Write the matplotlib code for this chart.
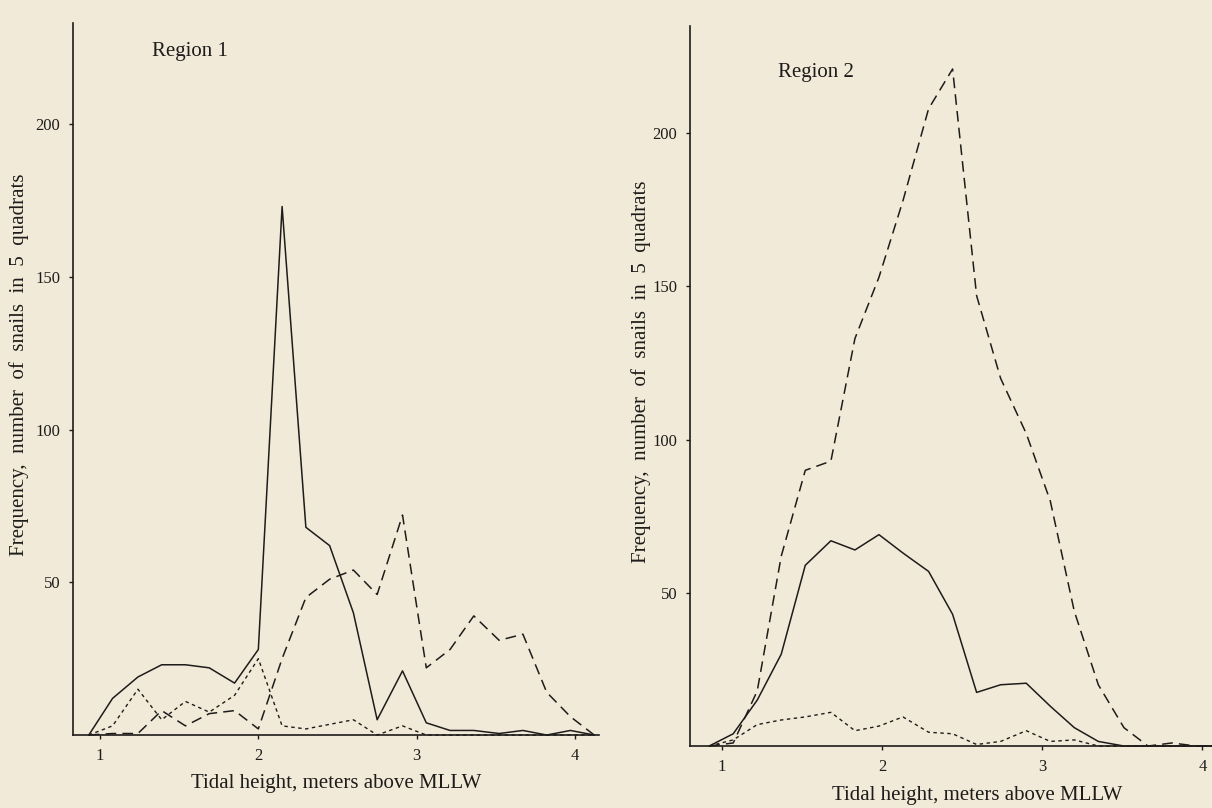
import matplotlib.pyplot as plt

# Region 1 - tidal height (m above MLLW) and counts per species
x1 = [0.93, 1.08, 1.24, 1.39, 1.54, 1.69, 1.85, 2.00, 2.15, 2.30, 2.45,
      2.60, 2.75, 2.91, 3.06, 3.21, 3.36, 3.52, 3.67, 3.82, 3.97, 4.12]
solid1 = [0, 12, 19, 23, 23, 22, 17, 28, 173, 68, 62,
          40, 5, 21, 4, 1.5, 1.5, 0.5, 1.5, 0, 1.5, 0]
dashed1 = [0, 0.5, 0.5, 8, 3, 7, 8, 2, 25, 45, 51,
           54, 46, 72, 22, 28, 39, 31, 33, 14, 6, 0]
dotted1 = [0, 3, 15, 5, 11, 7.5, 13, 25, 3, 2, 3.5,
           5, 0, 3, 0, 0, 0, 0, 0, 0, 0, 0]

# Region 2
x2 = [0.92, 1.07, 1.22, 1.37, 1.52, 1.68, 1.83, 1.98, 2.13, 2.29, 2.44,
      2.59, 2.74, 2.90, 3.05, 3.20, 3.35, 3.51, 3.66, 3.81, 3.96, 4.11]
solid2 = [0, 4, 15, 30, 59, 67, 64, 69, 63, 57, 43,
          17.5, 20, 20.5, 13, 6, 1.5, 0, 0, 0, 0, 0]
dashed2 = [0, 1, 18, 62, 90, 93, 133, 153, 178, 208, 221,
           147, 120, 102, 80, 44, 20, 6, 0, 1, 0, 0]
dotted2 = [0, 2, 7, 8.5, 9.5, 11, 5, 6.5, 9.5, 4.5, 4,
           0.5, 1.5, 5, 1.5, 2, 0, 0, 0, 0, 0, 0]

xticks = [1, 2, 3, 4]
yticks = [50, 100, 150, 200]

bg = "#f2ead9"
ink = "#1e1c1a"
plt.rcParams["font.family"] = ["Liberation Serif", "DejaVu Serif"]

fig = plt.figure(figsize=(12.12, 8.08), dpi=100, facecolor=bg)
ax1 = fig.add_axes([0.0602, 0.0903, 0.434, 0.881])
ax2 = fig.add_axes([0.5693, 0.0767, 0.4307, 0.891])

panels = [
    (ax1, x1, solid1, dashed1, dotted1, "Region 1", (0.83, 4.15), 233,
     0.5, -0.083, (0.15, 0.96)),
    (ax2, x2, solid2, dashed2, dotted2, "Region 2", (0.80, 4.06), 235,
     0.55, -0.075, (0.169, 0.936)),
]

for ax, x, s, d, dt, title, xl, ytop, xlab_x, ylab_x, title_pos in panels:
    ax.set_facecolor(bg)
    ax.plot(x, s, color=ink, lw=1.1, clip_on=False)
    ax.plot(x, d, color=ink, lw=1.1, dashes=(7, 4), clip_on=False)
    ax.plot(x, dt, color=ink, lw=1.0, dashes=(2.5, 2.5), clip_on=False)
    ax.set_xlim(*xl)
    ax.set_ylim(0, ytop)
    ax.set_xticks(xticks)
    ax.set_yticks(yticks)
    ax.tick_params(direction="out", length=3, width=1, colors=ink,
                   labelsize=12, pad=6)
    for side in ["top", "right"]:
        ax.spines[side].set_visible(False)
    for side in ["left", "bottom"]:
        ax.spines[side].set_color(ink)
        ax.spines[side].set_linewidth(1.2)
    ax.set_xlabel("Tidal height, meters above MLLW", fontsize=15, color=ink)
    ax.xaxis.set_label_coords(xlab_x, -0.055)
    ax.set_ylabel("Frequency,  number  of  snails  in  5  quadrats",
                  fontsize=15, color=ink)
    ax.yaxis.set_label_coords(ylab_x, 0.52)
    ax.text(title_pos[0], title_pos[1], title, transform=ax.transAxes,
            fontsize=15, color=ink, va="center")

fig.savefig("out.png", dpi=100, facecolor=bg)
